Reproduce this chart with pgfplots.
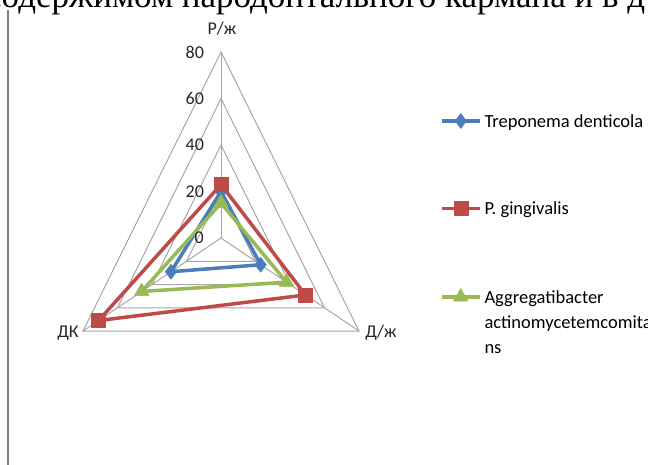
\documentclass[border=0pt]{standalone}
\usepackage{fontspec}
\setmainfont{Carlito}
\newfontfamily\timesf{Liberation Serif}
\usepackage{pgfplots}
\usepackage{pgfplotstable}
\pgfplotsset{compat=1.18}
\definecolor{tdblue}{HTML}{4A7EBB}
\definecolor{pgred}{HTML}{BE4B48}
\definecolor{aagreen}{HTML}{98B954}
\definecolor{gridc}{HTML}{A6A6A6}

% angle (deg, clockwise from top) and value
\pgfplotstableread{
a v
0 20
120 23
240 29
0 20
}\tdtab
\pgfplotstableread{
a v
0 23
120 49
240 71
0 23
}\pgtab
\pgfplotstableread{
a v
0 15
120 38
240 46
0 15
}\aatab

\begin{document}
\begin{tikzpicture}
\useasboundingbox (0,0) rectangle (648bp,-465bp);
\clip (0,0) rectangle (648bp,-465bp);
\node[anchor=base west, inner sep=0pt, font=\timesf\fontsize{35bp}{40bp}\selectfont] at (-14bp,-7.3bp) {содержимом пародонтального кармана и в д};
\draw[color=gray, line width=1.5bp] (7.8bp,-10bp) -- (7.8bp,-466bp);
\begin{axis}[
  scale only axis, width=398.4bp, height=337.1bp,
  xmin=-100, xmax=100, ymin=-50, ymax=95,
  hide axis, clip=false,
  anchor=south west, at={(21.8bp,-354.25bp)},
  legend style={at={(1.0497,0.7142)}, anchor=north west, draw=none, fill=none,
    inner sep=0pt, outer sep=0pt, row sep=72bp, column sep=3bp,
    nodes={inner sep=0pt}, cells={anchor=base west},
    font=\fontsize{18.5bp}{25bp}\selectfont},
  legend image code/.code={\draw[mark repeat=2,mark phase=2,#1] plot coordinates {(0bp,6.5bp) (19bp,6.5bp) (38bp,6.5bp)};},
]
% grid
\addplot[gridc, line width=1bp, forget plot] coordinates {(0,20) (17.321,-10) (-17.321,-10) (0,20)};
\addplot[gridc, line width=1bp, forget plot] coordinates {(0,40) (34.641,-20) (-34.641,-20) (0,40)};
\addplot[gridc, line width=1bp, forget plot] coordinates {(0,60) (51.962,-30) (-51.962,-30) (0,60)};
\addplot[gridc, line width=1bp, forget plot] coordinates {(0,80) (69.282,-40) (-69.282,-40) (0,80)};
\addplot[gridc, line width=1bp, forget plot] coordinates {(0,0) (0,80)};
\addplot[gridc, line width=1bp, forget plot] coordinates {(0,0) (69.282,-40)};
\addplot[gridc, line width=1bp, forget plot] coordinates {(0,0) (-69.282,-40)};
% series
\addplot[tdblue, line width=3.5bp, line join=round, mark=diamond*, mark size=7.5bp, mark options={solid, line width=0.5bp, fill=tdblue}]
  table[x expr={\thisrow{v}*sin(\thisrow{a})}, y expr={\thisrow{v}*cos(\thisrow{a})}] {\tdtab};
\addlegendentry{\vrule height 14bp depth 5bp width 0pt Treponema denticola}
\addplot[pgred, line width=3.5bp, line join=round, mark=square*, mark size=7bp, mark options={solid, line width=0.5bp, fill=pgred}]
  table[x expr={\thisrow{v}*sin(\thisrow{a})}, y expr={\thisrow{v}*cos(\thisrow{a})}] {\pgtab};
\addlegendentry{\vrule height 14bp depth 5bp width 0pt P. gingivalis}
\addplot[aagreen, line width=3.5bp, line join=round, mark=triangle*, mark size=8.5bp, mark options={solid, line width=0.5bp, fill=aagreen}]
  table[x expr={\thisrow{v}*sin(\thisrow{a})}, y expr={\thisrow{v}*cos(\thisrow{a})}] {\aatab};
\addlegendentry{\vtop{\hbox{\vrule height 14bp depth 5bp width 0pt Aggregatibacter}\hbox{actinomycetemcomita}\hbox{ns}}}
% tick labels
\foreach \v in {0,20,40,60,80} {
  \edef\temp{\noexpand\node[anchor=east, inner sep=0pt, font=\noexpand\fontsize{18bp}{20bp}\noexpand\selectfont, text=black!85] at (axis cs:-8.5,\v) {\v};}
  \temp
}
% category labels
\node[font=\fontsize{18bp}{20bp}\selectfont, text=black!85] at (axis cs:0.5,89.9) {Р/ж};
\node[font=\fontsize{18bp}{20bp}\selectfont, text=black!85] at (axis cs:80.3,-40.9) {Д/ж};
\node[font=\fontsize{18bp}{20bp}\selectfont, text=black!85] at (axis cs:-76.8,-40.9) {ДК};
\end{axis}
\end{tikzpicture}
\end{document}
